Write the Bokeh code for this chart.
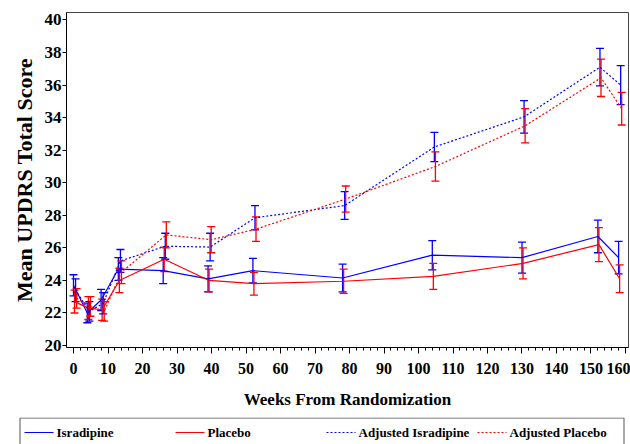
from bokeh.plotting import figure
from bokeh.layouts import column
from bokeh.models import (ColumnDataSource, Whisker, TeeHead, FixedTicker, Range1d, Plot)
from bokeh.core.properties import value
from bokeh.transform import dodge
from bokeh.embed import file_html
from bokeh.resources import INLINE

# ---------------- data ----------------
weeks = [0, 4, 8, 13, 26, 39, 52, 78, 104, 130, 152, 158]

isr_mean = [23.7, 22.0, 22.8, 24.7, 24.6, 24.1, 24.6, 24.15, 25.55, 25.4, 26.7, 25.4]
isr_err = [0.65, 0.6, 0.65, 0.7, 0.8, 0.8, 0.75, 0.85, 0.9, 0.95, 1.0, 1.0]

plc_mean = [22.7, 22.3, 22.2, 24.0, 25.3, 24.0, 23.8, 23.95, 24.25, 25.05, 26.2, 24.1]
plc_err = [0.7, 0.7, 0.65, 0.75, 0.75, 0.7, 0.7, 0.75, 0.8, 0.95, 1.05, 0.85]

adj_isr_mean = [23.4, 22.1, 22.6, 25.2, 26.1, 26.05, 27.85, 28.6, 32.2, 34.05, 37.1, 36.0]
adj_isr_err = [0.7, 0.6, 0.65, 0.7, 0.8, 0.85, 0.75, 0.85, 0.9, 1.0, 1.15, 1.2]

adj_plc_mean = [22.9, 22.4, 22.1, 24.5, 26.8, 26.5, 27.15, 29.0, 31.0, 33.5, 36.45, 34.55]
adj_plc_err = [0.6, 0.6, 0.6, 0.7, 0.8, 0.8, 0.75, 0.8, 0.9, 1.05, 1.15, 1.0]

series_names = ["Isradipine", "Placebo", "Adjusted  Isradipine", "Adjusted  Placebo"]

x_ticks = [0, 10, 20, 30, 40, 50, 60, 70, 80, 90, 100, 110, 120, 130, 140, 150, 160]
y_ticks = [20, 22, 24, 26, 28, 30, 32, 34, 36, 38, 40]

x_title = "Weeks From Randomization"
y_title = "Mean UPDRS Total Score"

# ---------------- styling ----------------
FONT = "Liberation Serif"
BLUE = "#0000ff"
RED = "#ff0000"
W = 630

p = figure(width=W, height=417, x_range=(-2.03, 160.87), y_range=(19.88, 40.46),
           output_backend="svg", toolbar_location=None,
           min_border_left=66, min_border_right=2, min_border_top=12,
           min_border_bottom=70)
p.background_fill_color = "white"
p.border_fill_color = "white"
p.outline_line_color = "#444444"
p.outline_line_width = 1
p.xgrid.grid_line_color = None
p.ygrid.grid_line_color = None

minor_x = [t + d for t in x_ticks[:-1] for d in (2, 4, 6, 8)]
p.xaxis.ticker = FixedTicker(ticks=x_ticks, minor_ticks=minor_x)
p.yaxis.ticker = FixedTicker(ticks=y_ticks, minor_ticks=[])

for ax in (p.xaxis[0], p.yaxis[0]):
    ax.axis_line_color = "black"
    ax.major_tick_line_color = "black"
    ax.minor_tick_line_color = "black"
    ax.major_label_text_font = FONT
    ax.major_label_text_font_style = "bold"
    ax.major_label_text_color = "black"
    ax.axis_label_text_font = FONT
    ax.axis_label_text_font_style = "bold"
    ax.axis_label_text_color = "black"

p.xaxis.major_tick_out = 6
p.xaxis.major_tick_in = 0
p.xaxis.minor_tick_out = 3
p.xaxis.minor_tick_in = 0
p.xaxis.major_label_text_font_size = "16px"
p.xaxis.major_label_standoff = 9
p.xaxis.axis_label = x_title
p.xaxis.axis_label_text_font_size = "17px"
p.xaxis.axis_label_standoff = 13

p.yaxis.major_tick_out = 4
p.yaxis.major_tick_in = 0
p.yaxis.minor_tick_out = 0
p.yaxis.major_label_text_font_size = "17px"
p.yaxis.major_label_standoff = 1
p.yaxis.axis_label = y_title
p.yaxis.axis_label_text_font_size = "22px"
p.yaxis.axis_label_standoff = 5

specs = [
    (isr_mean, isr_err, BLUE, "solid", 0.0),
    (plc_mean, plc_err, RED, "solid", 0.3),
    (adj_isr_mean, adj_isr_err, BLUE, "2 2", 0.6),
    (adj_plc_mean, adj_plc_err, RED, "2 2", 0.9),
]

for (mean, err, color, dash, off) in specs:
    src = ColumnDataSource(dict(
        x=weeks, y=mean,
        lo=[m - e for m, e in zip(mean, err)],
        hi=[m + e for m, e in zip(mean, err)],
    ))
    p.line(x=dodge("x", off), y="y", source=src, line_color=color,
           line_width=1.2, line_dash=dash)
    w = Whisker(base=dodge("x", off), upper="hi", lower="lo", source=src,
                dimension="height", line_color=color, line_width=1.3,
                upper_head=TeeHead(size=8, line_color=color, line_width=1.3),
                lower_head=TeeHead(size=8, line_color=color, line_width=1.3))
    p.add_layout(w)

# ---------------- legend strip below the plot (pixel units) ----------------
LH = 27
lg = figure(width=W, height=LH, output_backend="svg", toolbar_location=None,
            x_axis_location=None, y_axis_location=None,
            x_range=Range1d(0, W), y_range=Range1d(0, LH),
            min_border=0, min_border_left=0, min_border_right=0,
            min_border_top=0, min_border_bottom=0)
lg.outline_line_color = None
lg.xgrid.grid_line_color = None
lg.ygrid.grid_line_color = None
lg.background_fill_color = "white"
lg.border_fill_color = "white"

if "frame_align" in Plot.properties():
    p.frame_align = False
    lg.frame_align = False

box_left, box_right = 19.5, 623.5
item_x0, item_pitch, glyph_w, standoff = 24, 151, 29, 3
mid_y = LH - 15

lg.quad(left=[box_left], right=[box_right], bottom=[-5], top=[LH - 0.5],
        fill_color="white", line_color="#555555", line_width=1)
for i, (name, spec) in enumerate(zip(series_names, specs)):
    color, dash = spec[2], spec[3]
    x0 = item_x0 + i * item_pitch
    lg.segment(x0=[x0], y0=[mid_y], x1=[x0 + glyph_w], y1=[mid_y],
               line_color=color, line_width=1.2, line_dash=dash)
    lg.text(x=[x0 + glyph_w + standoff], y=[mid_y], text=[name],
            text_font=value(FONT), text_font_style="bold",
            text_font_size="13px", text_color="black",
            text_baseline="middle", text_align="left")

layout = column(p, lg, spacing=0)
open("out.html", "w").write(file_html(layout, INLINE))
